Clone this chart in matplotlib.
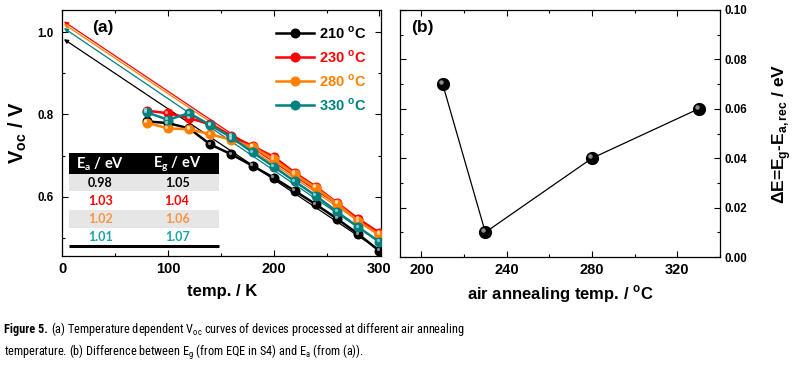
import matplotlib
matplotlib.use("Agg")
import matplotlib.pyplot as plt
import matplotlib.transforms as mtransforms
from matplotlib.patches import Rectangle
from matplotlib.ticker import MultipleLocator, FormatStrFormatter
from matplotlib import font_manager

plt.rcParams['font.family'] = ['Liberation Sans', 'DejaVu Sans']
plt.rcParams['mathtext.fontset'] = 'custom'

names = {f.name for f in font_manager.fontManager.ttflist}
cap_font = 'Lato'
for cand in ['Liberation Sans Narrow', 'Roboto Condensed', 'Noto Sans Condensed',
             'Open Sans Condensed', 'Noto Sans CJK JP']:
    if cand in names:
        cap_font = cand
        break
plt.rcParams['mathtext.rm'] = cap_font + ':normal'
plt.rcParams['mathtext.bf'] = 'Liberation Sans:bold'
plt.rcParams['mathtext.sf'] = 'Lato:bold'

# ---- data (a) ----
temps_K = [80, 100, 120, 140, 160, 180, 200, 220, 240, 260, 280, 300]
voc_210 = [0.783, 0.779, 0.766, 0.727, 0.703, 0.675, 0.646, 0.614, 0.581, 0.546, 0.509, 0.468]
voc_230 = [0.809, 0.803, 0.791, 0.776, 0.748, 0.723, 0.697, 0.658, 0.624, 0.585, 0.546, 0.512]
voc_280 = [0.780, 0.766, 0.764, 0.752, 0.738, 0.721, 0.691, 0.654, 0.621, 0.583, 0.540, 0.507]
voc_330 = [0.805, 0.787, 0.803, 0.774, 0.744, 0.708, 0.673, 0.637, 0.602, 0.563, 0.526, 0.490]
series_labels = ["210 $^\\mathbf{o}$C", "230 $^\\mathbf{o}$C", "280 $^\\mathbf{o}$C", "330 $^\\mathbf{o}$C"]
line_colors = ["#000000", "#ff0000", "#ff8000", "#008080"]
# linear fits extrapolated to 0 K (intercept = Ea) and value at 300 K
fit_intercepts = [0.983, 1.026, 1.020, 1.010]
fit_at_300 = [0.470, 0.512, 0.507, 0.490]

# ---- table ----
table_Ea = ["0.98", "1.03", "1.02", "1.01"]
table_Eg = ["1.05", "1.04", "1.06", "1.07"]
table_colors = ["#000000", "#ff0000", "#f79646", "#1aa3a8"]

# ---- data (b) ----
anneal_T = [210, 230, 280, 330]
delta_E = [0.07, 0.01, 0.04, 0.06]

fig = plt.figure(figsize=(8.02, 3.69), dpi=100)
ax1 = fig.add_axes([62.3/802, 113/369, 318.7/802, 246/369])
ax2 = fig.add_axes([400/802, 112/369, 320/802, 247/369])

def ball(ax, x, y, color, ms, lw, label=None):
    ln, = ax.plot(x, y, '-o', color=color, ms=ms, lw=lw, mec=color, mfc=color,
                  label=label, zorder=3)
    tr = mtransforms.offset_copy(ax.transData, fig=fig, x=-ms*0.18, y=ms*0.18, units='points')
    ax.plot(x, y, 'o', ms=ms*0.38, mfc='white', mec='none', alpha=0.55,
            transform=tr, zorder=4)
    return ln

all_voc = [voc_210, voc_230, voc_280, voc_330]
for i in range(4):
    ax1.annotate('', xy=(1.5, fit_intercepts[i]), xytext=(300, fit_at_300[i]),
                 arrowprops=dict(arrowstyle='-|>', lw=0.9, color=line_colors[i],
                                 mutation_scale=6, shrinkA=0, shrinkB=0), zorder=2)
handles = []
for i in range(4):
    handles.append(ball(ax1, temps_K, all_voc[i], line_colors[i], 6.2, 1.8, series_labels[i]))

ax1.set_xlim(0, 301.5)
ax1.set_ylim(0.4557, 1.054)
ax1.xaxis.set_major_locator(MultipleLocator(100))
ax1.xaxis.set_minor_locator(MultipleLocator(50))
ax1.yaxis.set_minor_locator(MultipleLocator(0.1))
ax1.set_yticks([0.6, 0.8, 1.0])
ax1.set_yticklabels(["0.6", "0.8", "1.0"])
ax1.set_xlabel("temp. / K", fontsize=12, fontweight='bold', labelpad=6)
ax1.set_ylabel("V$_\\mathbf{oc}$ / V", fontsize=14.5, fontweight='bold', labelpad=6)
ax1.text(0.095, 0.96, "(a)", transform=ax1.transAxes, fontsize=12.5, fontweight='bold',
         va='top', ha='left')

leg = ax1.legend(handles=handles, loc='upper right', bbox_to_anchor=(1.0, 1.0),
                 frameon=False, fontsize=10.5, handlelength=2.6, handletextpad=0.35,
                 labelspacing=0.5, borderaxespad=0.6)
for t, c in zip(leg.get_texts(), line_colors):
    t.set_color(c)
    t.set_fontweight('bold')

# table inset (axes fraction coordinates)
tx0, tx1 = 0.0215, 0.492
row_edges = [0.417, 0.333, 0.264, 0.187, 0.113, 0.043]
ax1.add_patch(Rectangle((tx0, row_edges[1]), tx1 - tx0, row_edges[0] - row_edges[1],
                        transform=ax1.transAxes, color='black', zorder=5, lw=0))
for r in range(4):
    ax1.add_patch(Rectangle((tx0, row_edges[r+2]), tx1 - tx0, row_edges[r+1] - row_edges[r+2],
                            transform=ax1.transAxes,
                            color='#e6e6e6' if r % 2 == 0 else 'white', zorder=5, lw=0))
ax1.plot([tx0, tx1], [0.041, 0.041], transform=ax1.transAxes, color='black', lw=2.2,
         zorder=6, solid_capstyle='butt')
colx = [0.12, 0.36]
for cx, hdr in zip(colx, ["E$_\\mathsf{a}$ / eV", "E$_\\mathsf{g}$ / eV"]):
    ax1.text(cx, (row_edges[0]+row_edges[1])/2, hdr, transform=ax1.transAxes,
             ha='center', va='center', color='white', fontsize=10.5, family='Lato',
             fontweight='bold', zorder=7)
for r in range(4):
    yc = (row_edges[r+1] + row_edges[r+2]) / 2
    ax1.text(colx[0], yc, table_Ea[r], transform=ax1.transAxes, ha='center', va='center',
             color=table_colors[r], fontsize=9, family='Lato', fontweight='bold', zorder=7)
    ax1.text(colx[1], yc, table_Eg[r], transform=ax1.transAxes, ha='center', va='center',
             color=table_colors[r], fontsize=9, family='Lato', fontweight='bold', zorder=7)

# panel (b)
ax2.plot(anneal_T, delta_E, '-', color='black', lw=0.9, zorder=2)
ball(ax2, anneal_T, delta_E, 'black', 8.5, 0, None)
ax2.set_xlim(190, 340)
ax2.set_ylim(0, 0.10)
ax2.xaxis.set_major_locator(MultipleLocator(40))
ax2.xaxis.set_minor_locator(MultipleLocator(20))
ax2.yaxis.set_major_locator(MultipleLocator(0.02))
ax2.yaxis.set_minor_locator(MultipleLocator(0.01))
ax2.yaxis.tick_right()
ax2.yaxis.set_label_position('right')
ax2.yaxis.set_major_formatter(FormatStrFormatter('%.2f'))
ax2.set_xlabel("air annealing temp. / $^\\mathbf{o}$C", fontsize=12, fontweight='bold', labelpad=5)
ax2.set_ylabel("ΔE=E$_\\mathbf{g}$-E$_\\mathbf{a,rec}$ / eV", fontsize=12.5, fontweight='bold',
               labelpad=17)
ax2.text(0.035, 0.96, "(b)", transform=ax2.transAxes, fontsize=12.5, fontweight='bold',
         va='top', ha='left')

for ax in (ax1, ax2):
    ax.tick_params(which='both', direction='in', top=True, bottom=True, left=True, right=True,
                   width=0.8)
    ax.tick_params(which='major', length=4)
    ax.tick_params(which='minor', length=2.5)
    ax.tick_params(axis='x', labelsize=10.5, pad=4)
    ax.tick_params(axis='y', labelsize=8.3, pad=6)
ax2.tick_params(axis='y', pad=3)
ax2.tick_params(labelleft=False, labelright=True)
for ax in (ax1, ax2):
    for lab in ax.get_xticklabels() + ax.get_yticklabels():
        lab.set_fontweight('bold')
    for s in ax.spines.values():
        s.set_linewidth(0.9)

# caption: size chosen so that line 1 spans the same width as in the figure
cap_y1, cap_y2 = 1 - 329/369, 1 - 352/369
t_bold = fig.text(4/802, cap_y1, "Figure 5.", family=cap_font, fontweight='bold',
                  fontsize=10, va='center', ha='left')
t_rest1 = fig.text(0, cap_y1,
                   "(a) Temperature dependent V$_\\mathrm{oc}$ curves of devices processed at different air annealing",
                   family=cap_font, fontsize=10, va='center', ha='left')
t_line2 = fig.text(4/802, cap_y2,
                   "temperature. (b) Difference between E$_\\mathrm{g}$ (from EQE in S4) and E$_\\mathrm{a}$ (from (a)).",
                   family=cap_font, fontsize=10, va='center', ha='left')
renderer = fig.canvas.get_renderer()
target_right = 462
fs = 10.0
for _ in range(4):
    for t in (t_bold, t_rest1, t_line2):
        t.set_fontsize(fs)
    wb = t_bold.get_window_extent(renderer).width
    t_rest1.set_x((4 + wb + fs * 0.3) / 802)
    right = t_rest1.get_window_extent(renderer).x1
    fs = fs * (target_right - 4) / (right - 4)

fig.savefig("out.png", dpi=100)
